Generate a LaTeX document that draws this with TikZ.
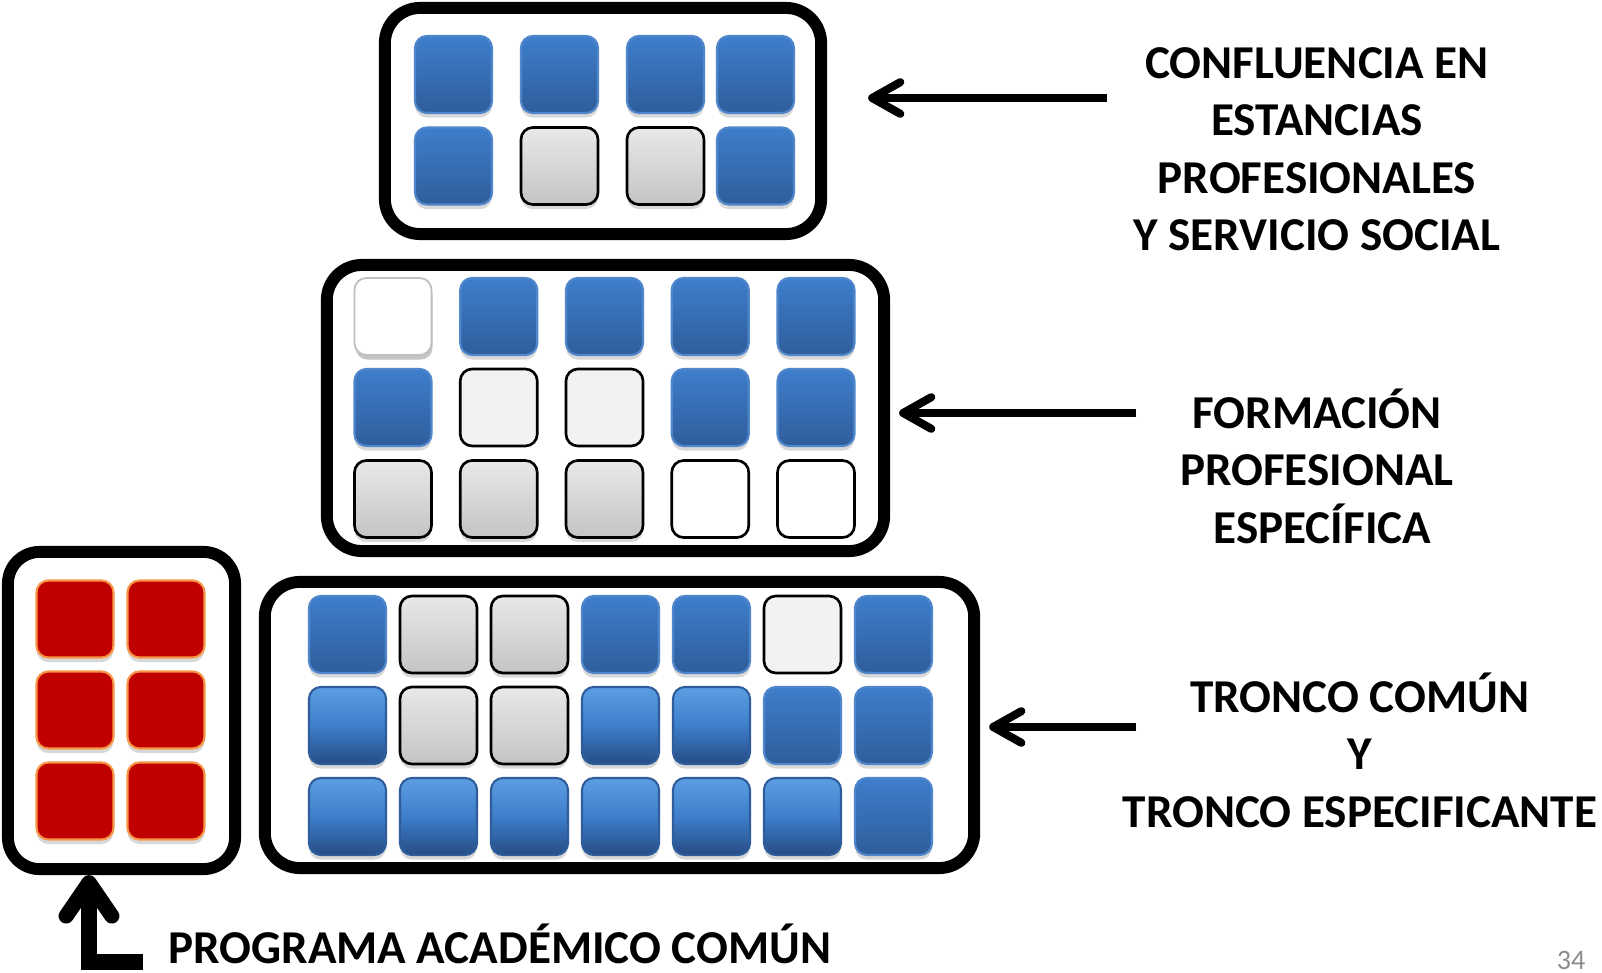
\documentclass[tikz,border=0pt]{standalone}
\usepackage{fontspec}
\setmainfont{Carlito}
\usetikzlibrary{arrows.meta,shadows}

\definecolor{tileblue}{RGB}{62,126,203}
\definecolor{tilebluedark}{RGB}{47,93,155}
\definecolor{tileedge}{RGB}{79,134,204}
\definecolor{glosstop}{RGB}{92,158,226}
\definecolor{glossbot}{RGB}{38,76,132}
\definecolor{tilered}{RGB}{192,0,0}
\definecolor{rededge}{RGB}{247,150,70}
\definecolor{pagegray}{RGB}{140,140,140}

\tikzset{
  tile/.style={minimum size=0.77cm, inner sep=0pt, rounded corners=3.4pt},
  softshadow/.style={drop shadow={shadow xshift=0pt, shadow yshift=-1.3pt, opacity=0.3}},
  bluetile/.style={tile, softshadow, draw=tileedge, line width=0.6pt, top color=tileblue, bottom color=tilebluedark},
  glosstile/.style={tile, softshadow, draw=tilebluedark, line width=0.6pt, top color=glosstop, bottom color=glossbot, middle color=tileblue},
  graytile/.style={tile, softshadow, draw=black, line width=0.75pt, top color=black!9, bottom color=black!23},
  lighttile/.style={tile, draw=black, line width=0.75pt, fill=black!5},
  whitetile/.style={tile, draw=black, line width=0.75pt, fill=white},
  bevtile/.style={tile, draw=black!25, line width=0.5pt, fill=white, drop shadow={shadow xshift=0.3pt, shadow yshift=-1.3pt, opacity=0.45}},
  redtile/.style={tile, softshadow, draw=rededge, line width=0.6pt, fill=tilered},
  bigbox/.style={draw, line width=3.4pt, rounded corners=10pt, fill=white, inner sep=0pt},
  lbltext/.style={font=\fontsize{13.4}{16.35}\selectfont\bfseries, align=center},
  pointer/.style={line width=2.3pt, -{Straight Barb[length=8pt,width=9pt,round]}}
}

\begin{document}
\begin{tikzpicture}[x=0.01cm, y=-0.01cm]
\useasboundingbox (0,0) rectangle (1602,973);

% the four frames
\node[bigbox, minimum width=4.36cm, minimum height=2.26cm] (boxA) at (603,121) {};
\node[bigbox, minimum width=5.57cm, minimum height=2.86cm] (boxB) at (605.5,408) {};
\node[bigbox, minimum width=7.09cm, minimum height=2.86cm] (boxC) at (619.5,725) {};
\node[bigbox, minimum width=2.27cm, minimum height=3.17cm, rounded corners=9pt] (boxL) at (121.5,710.5) {};

% estancias y servicio social
\foreach \s [count=\i] in {bluetile,bluetile,bluetile,bluetile} {
  \pgfmathsetmacro\xx{{453.5,559.5,665.5,755.5}[\i-1]}
  \node[\s] (a-1-\i) at (\xx,74.5) {};
}
\foreach \s [count=\i] in {bluetile,graytile,graytile,bluetile} {
  \pgfmathsetmacro\xx{{453.5,559.5,665.5,755.5}[\i-1]}
  \node[\s] (a-2-\i) at (\xx,166) {};
}

% formacion profesional
\foreach \s [count=\i] in {bevtile,bluetile,bluetile,bluetile,bluetile}
  \node[\s] (b-1-\i) at ({393+105.75*(\i-1)},316.5) {};
\foreach \s [count=\i] in {bluetile,lighttile,lighttile,bluetile,bluetile}
  \node[\s] (b-2-\i) at ({393+105.75*(\i-1)},407.5) {};
\foreach \s [count=\i] in {graytile,graytile,graytile,whitetile,whitetile}
  \node[\s] (b-3-\i) at ({393+105.75*(\i-1)},499) {};

% tronco comun y especificante
\foreach \s [count=\i] in {bluetile,graytile,graytile,bluetile,bluetile,lighttile,bluetile}
  \node[\s] (c-1-\i) at ({347.5+91*(\i-1)},634.5) {};
\foreach \s [count=\i] in {glosstile,graytile,graytile,glosstile,glosstile,bluetile,bluetile}
  \node[\s] (c-2-\i) at ({347.5+91*(\i-1)},725.5) {};
\foreach \s [count=\i] in {glosstile,glosstile,glosstile,glosstile,glosstile,glosstile,bluetile}
  \node[\s] (c-3-\i) at ({347.5+91*(\i-1)},816.5) {};

% programa academico comun
\foreach \r [count=\j] in {619,710,801} {
  \node[redtile] (l-\j-1) at (75,\r) {};
  \node[redtile] (l-\j-2) at (166,\r) {};
}

% labels
\node[lbltext] (lblA) at (1317,149) {CONFLUENCIA EN\\ESTANCIAS\\PROFESIONALES\\Y SERVICIO SOCIAL};
\node[lbltext] (lblB) at (1317,466) {FORMACIÓN\\PROFESIONAL\\\ ESPECÍFICA};
\node[lbltext] (lblC) at (1360,750) {TRONCO COMÚN\\Y\\TRONCO ESPECIFICANTE};
\node[lbltext, inner sep=0pt] (lblP) at (500,944) {PROGRAMA ACADÉMICO COMÚN};
\node[font=\fontsize{8}{9}\selectfont, text=pagegray, inner sep=0pt] (pagenum) at (1571,960) {34};

% arrows
\coordinate (tailA) at (1107,98);
\coordinate (tailB) at (1136,413);
\coordinate (tailC) at (1136,727);
\coordinate (tailP) at (143,962);
\coordinate (elbowP) at (89,962);
\draw[pointer, shorten >=0.41cm] (tailA) -- (tailA -| boxA.east);
\draw[pointer, shorten >=0.09cm] (tailB) -- (tailB -| boxB.east);
\draw[pointer, shorten >=0.09cm] (tailC) -- (tailC -| boxC.east);
\draw[line width=4.3pt, -{Straight Barb[length=9.5pt,width=13pt,round]}] (tailP) -- (elbowP) -- (elbowP |- boxL.south);
\end{tikzpicture}
\end{document}
